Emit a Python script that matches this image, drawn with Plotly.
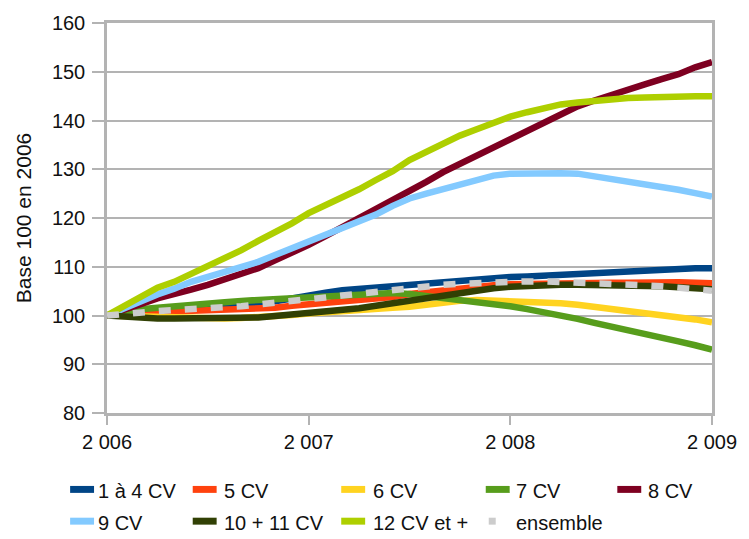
import plotly.graph_objects as go

# Monthly index, January 2006 .. January 2009
months = list(range(37))
years = [2006 + m / 12 for m in months]

series_names = ["1 à 4 CV", "5 CV", "6 CV", "7 CV", "8 CV",
                "9 CV", "10 + 11 CV", "12 CV et +", "ensemble"]

cv_1_4 = [100.0, 100.5, 100.9, 101.2, 101.4, 101.6, 101.9, 102.1, 102.3, 102.6,
          102.9, 103.5, 104.2, 104.7, 105.2, 105.5, 105.8, 106.0, 106.2, 106.4,
          106.7, 107.0, 107.4, 107.7, 107.9, 108.0, 108.2, 108.3, 108.4, 108.6,
          108.9, 109.1, 109.3, 109.5, 109.6, 109.7, 109.7]
cv_5 = [100.0, 100.4, 100.6, 100.7, 100.8, 100.8, 100.9, 101.0, 101.1, 101.3,
        101.6, 102.0, 102.3, 102.5, 102.8, 103.1, 103.4, 103.8, 104.4, 104.8,
        105.2, 105.5, 105.9, 106.2, 106.4, 106.5, 106.6, 106.6, 106.7, 106.7,
        106.7, 106.7, 106.8, 106.8, 106.8, 106.7, 106.6]
cv_6 = [100.0, 99.9, 99.7, 99.6, 99.5, 99.4, 99.4, 99.4, 99.5, 99.6,
        99.8, 100.1, 100.4, 100.7, 101.0, 101.2, 101.4, 101.6, 101.8, 102.3,
        102.8, 103.0, 103.2, 103.1, 103.0, 102.9, 102.7, 102.5, 102.2, 101.8,
        101.5, 101.1, 100.7, 100.3, 99.7, 99.2, 98.6]
cv_7 = [100.0, 100.8, 101.3, 101.6, 101.8, 102.1, 102.4, 102.7, 103.0, 103.2,
        103.4, 103.6, 103.7, 103.9, 104.2, 104.4, 104.5, 104.6, 104.4, 104.0,
        103.5, 103.2, 103.0, 102.5, 101.9, 101.3, 100.7, 100.0, 99.3, 98.5,
        97.8, 97.1, 96.3, 95.5, 94.7, 93.9, 93.0]
cv_8 = [100.0, 101.0, 102.3, 103.5, 104.3, 105.3, 106.3, 107.4, 108.5, 109.7,
        111.3, 112.8, 114.5, 116.3, 118.1, 119.9, 121.8, 123.8, 125.6, 127.4,
        129.4, 131.1, 132.8, 134.6, 136.3, 137.8, 139.6, 141.3, 142.9, 144.1,
        145.3, 146.4, 147.4, 148.5, 149.5, 150.9, 152.0]
cv_9 = [100.0, 101.5, 102.9, 104.3, 105.5, 106.9, 107.9, 108.9, 109.9, 111.0,
        112.4, 113.8, 115.3, 116.4, 117.8, 119.2, 120.7, 122.5, 124.0, 125.0,
        126.0, 127.0, 127.9, 128.7, 129.1, 129.2, 129.3, 129.2, 129.1, 128.6,
        128.1, 127.6, 127.1, 126.4, 125.8, 125.1, 124.4]
cv_10_11 = [100.0, 99.7, 99.4, 99.4, 99.4, 99.4, 99.4, 99.4, 99.5, 99.6,
            99.9, 100.2, 100.4, 100.8, 101.2, 101.5, 102.0, 102.5, 103.0, 103.6,
            104.2, 104.8, 105.2, 105.6, 105.9, 106.1, 106.3, 106.3, 106.3, 106.3,
            106.3, 106.2, 106.0, 106.0, 105.8, 105.6, 105.4]
cv_12_plus = [100.0, 101.8, 103.9, 105.7, 106.9, 108.5, 110.2, 111.8, 113.4, 115.3,
              117.0, 118.9, 121.0, 122.6, 124.2, 125.9, 127.8, 129.6, 131.9, 133.6,
              135.3, 136.9, 138.2, 139.6, 140.8, 141.7, 142.6, 143.3, 143.7, 144.1,
              144.4, 144.6, 144.7, 144.9, 145.0, 145.0, 145.0]
ensemble = [100.0, 100.4, 100.7, 100.9, 101.1, 101.4, 101.5, 101.7, 101.9, 102.2,
            102.5, 102.9, 103.3, 103.7, 104.1, 104.5, 104.8, 105.1, 105.6, 105.9,
            106.3, 106.5, 106.7, 106.9, 107.0, 107.0, 107.0, 106.9, 106.9, 106.8,
            106.6, 106.4, 106.2, 106.0, 105.7, 105.4, 105.1]

series_values = [cv_1_4, cv_5, cv_6, cv_7, cv_8, cv_9, cv_10_11, cv_12_plus, ensemble]
colors = ["#004586", "#ff420e", "#ffd320", "#579d1c", "#7e0021",
          "#83caff", "#314004", "#aecf00", "#cccccc"]

x_tick_vals = [2006, 2007, 2008, 2009]
x_tick_text = ["2 006", "2 007", "2 008", "2 009"]
y_tick_vals = [80, 90, 100, 110, 120, 130, 140, 150, 160]

FONT = "Liberation Sans, Arial, sans-serif"
TEXT = "#111111"
GRID = "#b3b3b3"

# plot area in pixels (749 x 539 canvas)
L, R, T, B = 107, 714, 20, 413
W, H = 749, 539


def px_x(px):
    return (px - L) / (R - L)


def px_y(py):
    return (B - py) / (B - T)


fig = go.Figure()
for name, vals, col in zip(series_names, series_values, colors):
    dash = "12px,14px" if name == "ensemble" else "solid"
    fig.add_trace(go.Scatter(
        x=years, y=vals, name=name, mode="lines",
        line=dict(color=col, width=6.5, dash=dash),
        showlegend=False, hoverinfo="skip"))

# hand-laid legend: 5 columns x 2 rows
col_sym_x = [70, 193, 342, 487, 619]
col_txt_x = [96, 222, 372, 515, 648]
row_y = [492, 524]
shapes = []
annotations = []
for i, (name, col) in enumerate(zip(series_names, colors)):
    r, c = divmod(i, 5)
    cy = row_y[r]
    if name == "ensemble":
        x0, x1, h = col_sym_x[c] + 3, col_sym_x[c] + 10, 7
    else:
        x0, x1, h = col_sym_x[c], col_sym_x[c] + 24, 7
    shapes.append(dict(type="rect", xref="paper", yref="paper",
                       x0=px_x(x0), x1=px_x(x1),
                       y0=px_y(cy - 2 + h / 2), y1=px_y(cy - 2 - h / 2),
                       fillcolor=col, line=dict(width=0), layer="above"))
    annotations.append(dict(text=name, xref="paper", yref="paper",
                            x=px_x(col_txt_x[c]), y=px_y(cy),
                            xanchor="left", yanchor="middle", showarrow=False,
                            font=dict(family=FONT, size=20, color=TEXT)))

fig.update_layout(
    width=W, height=H,
    margin=dict(l=L, r=W - R, t=T, b=H - B),
    paper_bgcolor="white", plot_bgcolor="white",
    font=dict(family=FONT, size=20, color=TEXT),
    shapes=shapes, annotations=annotations,
    xaxis=dict(range=[2006, 2009], tickvals=x_tick_vals, ticktext=x_tick_text,
               showgrid=False, zeroline=False,
               showline=True, mirror=True, linecolor=GRID, linewidth=2.5,
               ticks="outside", ticklen=9, tickwidth=2, tickcolor=GRID,
               tickfont=dict(family=FONT, size=20, color=TEXT)),
    yaxis=dict(range=[80, 160], tickvals=y_tick_vals,
               showgrid=True, gridcolor=GRID, gridwidth=2, zeroline=False,
               showline=True, mirror=True, linecolor=GRID, linewidth=2.5,
               ticks="outside", ticklen=12, tickwidth=2, tickcolor=GRID,
               ticklabelstandoff=3,
               tickfont=dict(family=FONT, size=20, color=TEXT),
               title=dict(text="Base 100 en 2006", standoff=15,
                          font=dict(family=FONT, size=21, color=TEXT))),
)

fig.write_html("out.html")
